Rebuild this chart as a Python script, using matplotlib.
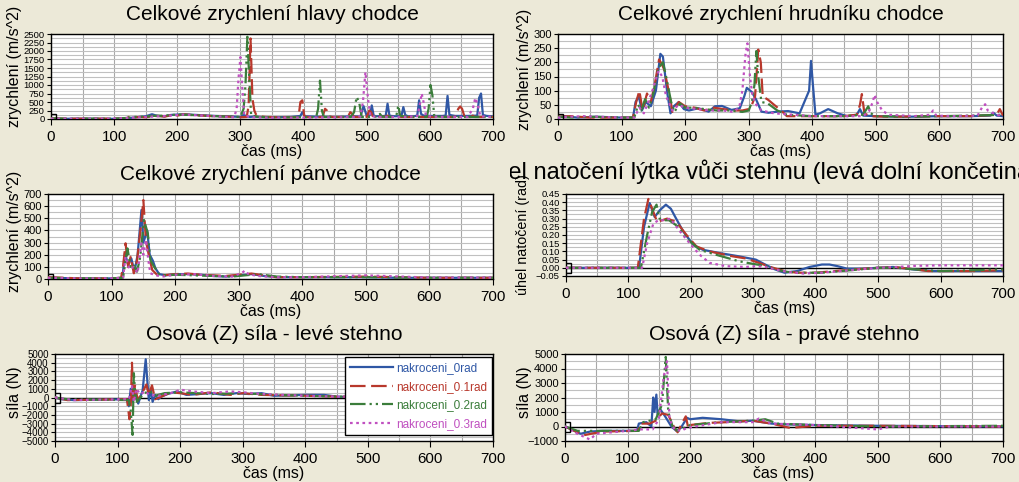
import matplotlib
matplotlib.use("Agg")
import matplotlib.pyplot as plt
from matplotlib.ticker import MultipleLocator
from matplotlib.transforms import Bbox, TransformedBbox

plt.rcParams['font.family'] = ['Liberation Sans', 'DejaVu Sans']

series_names = ['nakroceni_0rad', 'nakroceni_0.1rad', 'nakroceni_0.2rad', 'nakroceni_0.3rad']
colors = ['#2f57a5', '#b8382c', '#3b7d3b', '#c050c0']
dash_styles = [None, (7, 2.5), (7, 1.8, 1, 1.8, 1, 1.8), (1.2, 1.6)]

titles = ['Celkové zrychlení hlavy chodce', 'Celkové zrychlení hrudníku chodce',
          'Celkové zrychlení pánve chodce', 'úhel natočení lýtka vůči stehnu (levá dolní končetina)',
          'Osová (Z) síla - levé stehno', 'Osová (Z) síla - pravé stehno']
ylabels = ['zrychlení (m/s^2)', 'zrychlení (m/s^2)', 'zrychlení (m/s^2)',
           'úhel natočení (rad)', 'síla (N)', 'síla (N)']
xlabel = 'čas (ms)'

# --- head acceleration (m/s^2)
head_t = [
    [0, 10, 50, 100, 120, 130, 140, 150, 160, 165, 170, 180, 190, 200, 210, 220, 240, 260, 280, 290, 300, 305, 310, 315,
     320, 330, 350, 380, 395, 398, 402, 420, 450, 480, 490, 495, 500, 505, 508, 511, 515, 530, 533, 536, 539, 545, 555,
     558, 561, 565, 575, 580, 583, 586, 590, 600, 620, 625, 628, 631, 640, 660, 675, 678, 681, 684, 690, 700],
    [0, 20, 60, 100, 120, 125, 130, 140, 150, 160, 170, 180, 190, 200, 210, 220, 240, 260, 280, 290, 300, 310, 313, 316,
     319, 322, 325, 330, 340, 360, 380, 392, 395, 398, 401, 404, 420, 430, 434, 437, 440, 445, 470, 474, 477, 480, 500,
     504, 507, 510, 530, 533, 536, 560, 600, 640, 645, 648, 651, 655, 665, 668, 671, 690, 700],
    [0, 20, 100, 120, 130, 150, 160, 180, 200, 220, 250, 280, 300, 305, 308, 311, 314, 317, 330, 350, 400, 420, 423, 426,
     429, 432, 450, 475, 480, 484, 488, 492, 510, 518, 521, 524, 540, 547, 550, 553, 570, 595, 598, 601, 604, 607, 620,
     650, 700],
    [0, 20, 100, 130, 150, 170, 190, 210, 230, 260, 280, 290, 294, 297, 300, 303, 306, 320, 350, 400, 450, 480, 490, 494,
     498, 502, 506, 520, 560, 580, 584, 587, 590, 594, 620, 660, 668, 672, 676, 680, 700],
]
head_v = [
    [10, 5, 10, 5, 20, 40, 60, 80, 140, 110, 90, 80, 120, 130, 140, 130, 110, 90, 80, 70, 60, 120, 80, 60,
     70, 60, 50, 60, 90, 200, 80, 70, 60, 80, 70, 380, 90, 120, 400, 100, 80, 90, 450, 100, 90, 80, 90,
     350, 120, 80, 80, 100, 550, 150, 100, 90, 90, 100, 680, 120, 90, 90, 100, 620, 750, 120, 90, 80],
    [20, 10, 10, 10, 20, 80, 40, 60, 50, 80, 90, 70, 110, 100, 140, 120, 100, 80, 70, 60, 50, 60, 400, 2370,
     600, 250, 120, 80, 60, 50, 50, 60, 500, 550, 100, 60, 50, 60, 300, 250, 80, 60, 60, 200, 150, 60, 60,
     250, 200, 60, 70, 100, 60, 60, 60, 60, 300, 370, 300, 60, 60, 100, 60, 60, 60],
    [20, 10, 10, 30, 60, 70, 90, 100, 130, 120, 90, 70, 60, 300, 1000, 2420, 1200, 100, 60, 50, 50, 60, 300, 1130,
     250, 60, 60, 60, 200, 650, 500, 60, 60, 80, 150, 70, 60, 100, 400, 90, 60, 60, 300, 1000, 700, 80, 60,
     60, 60],
    [10, 10, 10, 40, 60, 80, 100, 130, 110, 80, 60, 50, 300, 1200, 1820, 900, 100, 50, 40, 40, 50, 60, 80, 500,
     1380, 600, 80, 60, 60, 80, 400, 750, 500, 80, 60, 60, 300, 620, 400, 80, 60],
]

# --- thorax acceleration (m/s^2)
chest_t = [
    [0, 10, 30, 60, 100, 118, 122, 127, 132, 138, 146, 154, 161, 165, 172, 177, 182, 190, 198, 206, 221, 237, 247, 258,
     273, 286, 293, 297, 305, 312, 320, 331, 346, 362, 380, 395, 398, 401, 405, 412, 425, 440, 455, 470, 475, 480, 500,
     550, 600, 650, 680, 685, 690, 700],
    [0, 20, 50, 100, 118, 123, 128, 133, 140, 146, 152, 159, 163, 167, 175, 180, 190, 200, 215, 230, 245, 260, 275, 290,
     300, 305, 310, 315, 319, 322, 331, 340, 351, 360, 400, 450, 470, 475, 478, 482, 490, 520, 600, 650, 690, 695, 700],
    [0, 20, 50, 100, 120, 126, 131, 137, 143, 150, 158, 165, 170, 178, 183, 192, 200, 215, 230, 250, 270, 290, 300, 305,
     309, 312, 315, 320, 330, 345, 360, 400, 450, 480, 488, 492, 500, 550, 600, 650, 700],
    [0, 20, 40, 100, 120, 128, 135, 142, 150, 158, 164, 170, 180, 190, 200, 220, 240, 260, 275, 285, 290, 295, 298, 302,
     306, 312, 320, 340, 400, 480, 490, 495, 498, 502, 510, 520, 560, 585, 590, 595, 620, 660, 668, 672, 676, 690, 700],
]
chest_v = [
    [5, 10, 5, 8, 5, 5, 60, 80, 30, 60, 45, 100, 230, 220, 90, 20, 45, 60, 35, 30, 38, 26, 45, 46,
     32, 38, 80, 110, 95, 67, 26, 22, 26, 28, 20, 100, 205, 120, 15, 20, 35, 20, 10, 15, 35, 12, 10,
     8, 10, 10, 12, 22, 12, 10],
    [8, 10, 5, 5, 5, 60, 100, 30, 90, 60, 120, 210, 195, 175, 90, 25, 60, 45, 40, 30, 40, 35, 30, 30,
     35, 50, 80, 245, 200, 80, 67, 50, 30, 10, 10, 10, 15, 50, 88, 20, 10, 8, 10, 10, 15, 35, 12],
    [8, 5, 8, 5, 5, 50, 30, 70, 40, 90, 180, 200, 150, 60, 25, 55, 40, 40, 35, 30, 30, 25, 30, 60,
     120, 240, 150, 60, 55, 30, 15, 10, 10, 15, 45, 20, 10, 8, 10, 12, 15],
    [5, 8, 10, 5, 5, 40, 20, 60, 110, 170, 150, 80, 30, 50, 40, 35, 30, 30, 25, 40, 100, 230, 267, 150,
     80, 50, 30, 20, 10, 10, 30, 60, 85, 60, 30, 15, 10, 15, 30, 12, 10, 12, 45, 52, 30, 15, 10],
]

# --- pelvis acceleration (m/s^2)
pelvis_t = [
    [0, 50, 100, 117, 121, 126, 131, 136, 141, 147, 150, 153, 156, 160, 165, 169, 175, 185, 200, 220, 240, 260, 280, 300,
     320, 340, 360, 400, 450, 500, 550, 600, 650, 700],
    [0, 50, 100, 115, 118, 122, 126, 130, 135, 140, 146, 150, 154, 159, 164, 172, 180, 200, 220, 240, 260, 280, 300, 320,
     340, 360, 400, 500, 600, 700],
    [0, 50, 100, 118, 125, 130, 135, 140, 145, 151, 157, 161, 167, 175, 185, 200, 230, 260, 290, 330, 360, 400, 500, 600,
     700],
    [0, 50, 100, 118, 122, 128, 135, 141, 147, 150, 154, 158, 161, 170, 180, 200, 230, 260, 290, 305, 310, 315, 330, 360,
     400, 500, 600, 700],
]
pelvis_v = [
    [10, 5, 5, 10, 211, 120, 170, 60, 200, 568, 300, 350, 400, 200, 150, 88, 40, 30, 40, 40, 35, 25, 20, 30,
     40, 25, 15, 15, 15, 15, 10, 10, 10, 10],
    [15, 5, 5, 10, 100, 294, 100, 184, 47, 150, 430, 650, 320, 184, 74, 33, 30, 40, 45, 35, 30, 25, 35, 45,
     30, 15, 15, 20, 10, 10],
    [10, 5, 5, 10, 252, 100, 120, 60, 180, 486, 376, 156, 100, 40, 30, 35, 30, 25, 20, 40, 20, 15, 15, 10,
     10],
    [10, 5, 5, 10, 184, 80, 100, 50, 294, 200, 320, 150, 47, 30, 20, 35, 40, 25, 20, 50, 70, 40, 25, 15,
     15, 30, 12, 12],
]

# --- knee angle (rad)
knee_t = [
    [0, 100, 117, 125, 134, 142, 150, 160, 168, 175, 188, 204, 219, 246, 277, 304, 319, 335, 350, 370, 390, 410, 422, 435,
     450, 475, 500, 524, 556, 588, 620, 660, 700],
    [0, 100, 115, 125, 132, 140, 146, 154, 162, 177, 193, 209, 230, 267, 288, 309, 330, 350, 370, 400, 430, 460, 500, 530,
     560, 580, 620, 650, 700],
    [0, 100, 120, 130, 138, 145, 150, 158, 165, 180, 193, 214, 240, 277, 298, 319, 335, 355, 380, 410, 440, 470, 500, 530,
     560, 600, 650, 700],
    [0, 100, 122, 130, 140, 148, 158, 167, 183, 198, 214, 230, 256, 288, 304, 320, 335, 355, 380, 410, 440, 470, 500, 530,
     560, 600, 650, 700],
]
knee_v = [
    [0, 0, 0, 0.25, 0.395, 0.31, 0.35, 0.385, 0.36, 0.31, 0.22, 0.14, 0.11, 0.09, 0.07, 0.05, 0.02, -0.01, -0.03, -0.02,
     0.005, 0.02, 0.02, 0.01, -0.005, -0.005, 0.0, 0.005, -0.01, -0.02, -0.02, -0.02, -0.02],
    [0, 0, 0, 0.3, 0.42, 0.34, 0.28, 0.29, 0.30, 0.28, 0.2, 0.13, 0.1, 0.07, 0.057, 0.03, 0.002, -0.02, -0.03, -0.03,
     -0.02, -0.01, 0.0, 0.003, -0.01, -0.02, -0.02, -0.02, -0.015],
    [0, 0, 0, 0.2, 0.34, 0.385, 0.3, 0.29, 0.29, 0.25, 0.18, 0.11, 0.08, 0.04, 0.025, 0.012, -0.01, -0.025, -0.03, -0.03,
     -0.02, -0.01, 0.0, 0.0, -0.01, -0.02, -0.015, -0.01],
    [0, 0, 0, 0.15, 0.27, 0.29, 0.29, 0.3, 0.22, 0.15, 0.08, 0.03, 0.01, 0.005, 0.01, 0.005, -0.01, -0.025, -0.035, -0.03,
     -0.02, -0.01, 0.0, 0.005, 0.012, 0.015, 0.015, 0.015],
]

# --- left thigh axial force (N)
lthigh_t = [
    [0, 10, 30, 115, 118, 121, 124, 128, 133, 140, 145, 148, 150, 153, 156, 160, 165, 170, 180, 195, 210, 230, 250, 270,
     290, 310, 330, 350, 400, 430, 450, 500, 700],
    [0, 20, 115, 119, 121, 123, 125, 128, 132, 140, 146, 150, 155, 160, 170, 185, 200, 220, 250, 280, 300, 330, 400, 450,
     700],
    [0, 20, 118, 121, 124, 126, 128, 131, 140, 150, 160, 175, 200, 250, 300, 350, 450, 700],
    [0, 30, 118, 123, 126, 130, 136, 145, 150, 165, 190, 200, 220, 250, 280, 300, 330, 400, 450, 700],
]
lthigh_v = [
    [0, -200, -300, -200, -1000, 1000, -500, 500, -700, 800, 4400, 1500, -300, 1000, -500, 300, -200, 100, 400, 700, 300,
     400, 500, 300, 500, 400, 500, 200, 300, 300, 100, 0, 0],
    [0, -300, -200, -2500, -1000, 4000, -500, 1500, -300, 600, 1500, 300, 1400, -200, 100, 600, 500, 300, 600, 300, 500,
     300, 200, 100, 0],
    [0, -200, -300, -1500, -4300, 2800, 600, -500, 300, 800, 200, 500, 600, 400, 500, 300, 100, 0],
    [0, -300, -200, 1300, -500, 1000, 400, 700, 300, 200, 600, 900, 700, 500, 700, 600, 400, 200, 100, 0],
]

# --- right thigh axial force (N)
rthigh_t = [
    [0, 10, 25, 40, 60, 115, 118, 130, 138, 141, 143, 146, 148, 152, 160, 170, 178, 185, 195, 200, 220, 250, 280, 300,
     330, 350, 400, 500, 700],
    [0, 20, 30, 60, 117, 120, 135, 145, 155, 165, 175, 180, 188, 193, 197, 200, 230, 260, 300, 330, 360, 400, 500, 700],
    [0, 20, 60, 118, 125, 145, 155, 161, 165, 172, 180, 190, 200, 250, 300, 320, 340, 400, 500, 700],
    [0, 15, 40, 50, 100, 120, 140, 150, 158, 163, 167, 175, 185, 195, 250, 300, 310, 330, 400, 500, 520, 700],
]
rthigh_v = [
    [0, -200, -500, -350, -300, -300, 200, 300, 0, 2000, 1000, 2200, 800, 1200, 700, 0, -300, -100, 600, 500, 600, 500,
     350, 400, 200, 150, 100, 50, 0],
    [0, -400, -600, -350, -300, 200, 200, 400, 900, 800, -100, -400, 300, 700, -100, 100, 250, 300, 400, 200, -100, 50,
     50, 0],
    [0, -300, -300, -300, 300, 500, 1500, 4800, 1000, 0, -300, -100, 100, 300, 400, 500, 200, 100, 0, 50],
    [0, -400, -900, -500, -300, -200, -200, 500, 3500, 4500, 500, -200, -300, -100, 300, 300, 550, 200, 100, -200, 0, 0],
]

panel_t = [head_t, chest_t, pelvis_t, knee_t, lthigh_t, rthigh_t]
panel_v = [head_v, chest_v, pelvis_v, knee_v, lthigh_v, rthigh_v]
ylims = [(0, 2500), (0, 300), (0, 700), (-0.05, 0.45), (-5000, 5000), (-1000, 5000)]
ysteps = [250, 50, 100, 0.05, 1000, 1000]
ytick_sizes = [6.8, 8, 8, 6.8, 7, 8]

W, H = 1020, 482
# axes boxes in pixels: left, top, right, bottom
boxes = [(51, 34, 493, 119), (558, 34, 1003, 119),
         (48, 194, 493, 279), (566, 194, 1003, 276),
         (55, 354, 493, 441), (565, 354, 1003, 441)]
title_base = [19.5, 19.5, 179.5, 179.5, 340.5, 340.5]
ylabel_pos = [(15, 66), (525, 69), (15, 231), (523, 235), (15, 392), (525, 392)]
ylabel_sizes = [11.5, 11.5, 11.5, 10.3, 11.5, 11.5]

fig = plt.figure(figsize=(W / 100, H / 100), dpi=100)
fig.patch.set_facecolor('#ece9d8')
renderer = fig.canvas.get_renderer()

for i in range(6):
    l, t, r, b = boxes[i]
    ax = fig.add_axes([l / W, 1 - b / H, (r - l) / W, (b - t) / H])
    ax.set_facecolor('white')
    for k in range(4):
        ln, = ax.plot(panel_t[i][k], panel_v[i][k], color=colors[k], lw=1.6, label=series_names[k], zorder=3)
        if dash_styles[k] is not None:
            ln.set_dashes(dash_styles[k])
    ax.set_xlim(0, 700)
    ax.set_ylim(*ylims[i])
    ax.xaxis.set_major_locator(MultipleLocator(100))
    ax.xaxis.set_minor_locator(MultipleLocator(50))
    ax.yaxis.set_major_locator(MultipleLocator(ysteps[i]))
    ax.yaxis.set_minor_locator(MultipleLocator(ysteps[i] / 2))
    ax.grid(True, which='both', axis='x', color='#a8a8a8', lw=0.8)
    ax.grid(True, which='both', axis='y', color='#c0c0c0', lw=0.8)
    ax.set_axisbelow(True)
    ax.tick_params(axis='x', which='major', labelsize=10.8, length=4, pad=4, color='black')
    ax.tick_params(axis='x', which='minor', length=0)
    ax.tick_params(axis='y', which='major', labelsize=ytick_sizes[i], length=3, pad=1.5)
    ax.tick_params(axis='y', which='minor', length=0)
    for sp in ax.spines.values():
        sp.set_linewidth(1.0)
    if ylims[i][0] < 0:
        ax.axhline(0, color='black', lw=1.0, zorder=2)
    ax.plot([0], [0], marker='s', markersize=7.5, markerfacecolor='none', markeredgecolor='black',
            markeredgewidth=1.0, zorder=4)
    ax.set_xlabel(xlabel, fontsize=11.5, labelpad=0)

    xc = (l + r) / 2 / W
    if i == 3:
        # long title: starts left of the panel edge and is cut off at x = 510 px
        probe = fig.text(0, 0, 'úh', fontsize=17)
        w_uh = probe.get_window_extent(renderer).width
        probe.remove()
        txt = fig.text((508 - w_uh) / W, 1 - title_base[i] / H, titles[i], fontsize=17,
                       ha='left', va='baseline')
        txt.set_clip_box(TransformedBbox(Bbox([[0.5, 0], [1, 1]]), fig.transFigure))
        txt.set_clip_on(True)
    else:
        fig.text(xc, 1 - title_base[i] / H, titles[i], fontsize=15, ha='center', va='baseline')
    yx, yy = ylabel_pos[i]
    fig.text(yx / W, 1 - yy / H, ylabels[i], fontsize=ylabel_sizes[i], rotation=90, ha='center', va='center')

    if i == 4:
        leg = ax.legend(loc='upper left', bbox_to_anchor=(0.662, 0.08, 0.336, 0.886), mode='expand',
                        fontsize=8.5, handlelength=3.6, handletextpad=0.3, labelspacing=0.55, borderpad=0.45,
                        frameon=True, fancybox=False, framealpha=1, edgecolor='black', borderaxespad=0)
        leg.get_frame().set_linewidth(1.0)
        for txt_l, c in zip(leg.get_texts(), colors):
            txt_l.set_color(c)

fig.savefig('out.png', dpi=100, facecolor=fig.get_facecolor())
